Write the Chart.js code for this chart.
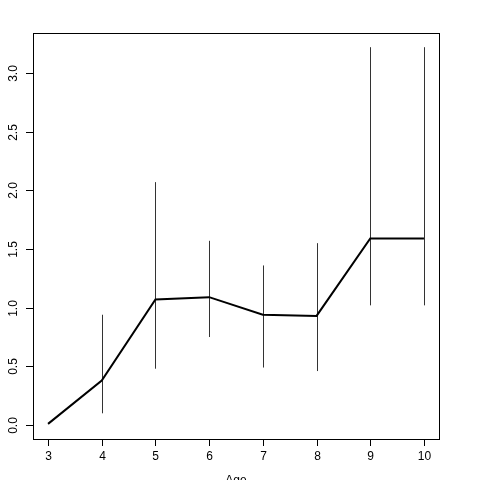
<!DOCTYPE html>
<html>
<head>
<meta charset="utf-8">
<script src="https://cdn.jsdelivr.net/npm/chart.js@4/dist/chart.umd.min.js"></script>
<style>
  html, body { margin: 0; padding: 0; background: #fff; }
  #wrap { width: 480px; height: 480px; }
</style>
</head>
<body>
<div id="wrap"><canvas id="chart" width="480" height="480"></canvas></div>
<script>
// data
const ages = [3, 4, 5, 6, 7, 8, 9, 10];
const means = [0.01, 0.38, 1.07, 1.09, 0.94, 0.93, 1.59, 1.59];
const lower = [0.01, 0.10, 0.48, 0.75, 0.49, 0.46, 1.02, 1.02];
const upper = [0.01, 0.94, 2.07, 1.57, 1.36, 1.55, 3.22, 3.22];
const xTicks = [3, 4, 5, 6, 7, 8, 9, 10];
const yTicks = [0.0, 0.5, 1.0, 1.5, 2.0, 2.5, 3.0];
const xTitle = 'Age';

const font = '12px "Liberation Sans", Arial, sans-serif';

// R style frame, ticks and labels
const rAxes = {
    id: 'rAxes',
    afterDraw(chart) {
        const ctx = chart.ctx;
        const a = chart.chartArea;
        const xs = chart.scales.x, ys = chart.scales.y;
        ctx.save();
        ctx.strokeStyle = '#000';
        ctx.lineWidth = 1;
        ctx.strokeRect(Math.round(a.left) + 0.5, Math.round(a.top) + 0.5,
            Math.round(a.right - a.left), Math.round(a.bottom - a.top));
        ctx.fillStyle = '#000';
        ctx.font = font;
        // x axis
        ctx.textAlign = 'center';
        ctx.textBaseline = 'middle';
        xTicks.forEach((t) => {
            const px = Math.round(xs.getPixelForValue(t)) + 0.5;
            ctx.beginPath();
            ctx.moveTo(px, a.bottom);
            ctx.lineTo(px, a.bottom + 7);
            ctx.stroke();
            ctx.fillText(String(t), px, a.bottom + 18);
        });
        // y axis
        yTicks.forEach((t) => {
            const py = Math.round(ys.getPixelForValue(t)) + 0.5;
            ctx.beginPath();
            ctx.moveTo(a.left, py);
            ctx.lineTo(a.left - 7, py);
            ctx.stroke();
            ctx.save();
            ctx.translate(a.left - 19, py);
            ctx.rotate(-Math.PI / 2);
            ctx.fillText(t.toFixed(1), 0, 0);
            ctx.restore();
        });
        ctx.textBaseline = 'top';
        ctx.fillText(xTitle, (a.left + a.right) / 2, 475);
        ctx.restore();
    }
};

// vertical interval lines
const errBars = {
    id: 'errBars',
    beforeDatasetsDraw(chart) {
        const ctx = chart.ctx;
        const xs = chart.scales.x, ys = chart.scales.y;
        ctx.save();
        ctx.strokeStyle = '#333';
        ctx.lineWidth = 1;
        ages.forEach((age, i) => {
            if (upper[i] === lower[i]) return;
            const px = Math.round(xs.getPixelForValue(age)) + 0.5;
            ctx.beginPath();
            ctx.moveTo(px, ys.getPixelForValue(lower[i]));
            ctx.lineTo(px, ys.getPixelForValue(upper[i]));
            ctx.stroke();
        });
        ctx.restore();
    }
};

new Chart(document.getElementById('chart'), {
    type: 'line',
    data: {
        datasets: [{
            data: ages.map((a, i) => ({ x: a, y: means[i] })),
            borderColor: '#000',
            borderWidth: 2,
            pointRadius: 0,
            tension: 0,
            fill: false
        }]
    },
    options: {
        responsive: false,
        animation: false,
        layout: { padding: { left: 33, right: 41, top: 33, bottom: 41 } },
        plugins: {
            legend: { display: false },
            tooltip: { enabled: false }
        },
        scales: {
            x: { type: 'linear', min: 2.72, max: 10.28, display: false },
            y: { type: 'linear', min: -0.119, max: 3.341, display: false }
        }
    },
    plugins: [errBars, rAxes]
});
</script>
</body>
</html>
